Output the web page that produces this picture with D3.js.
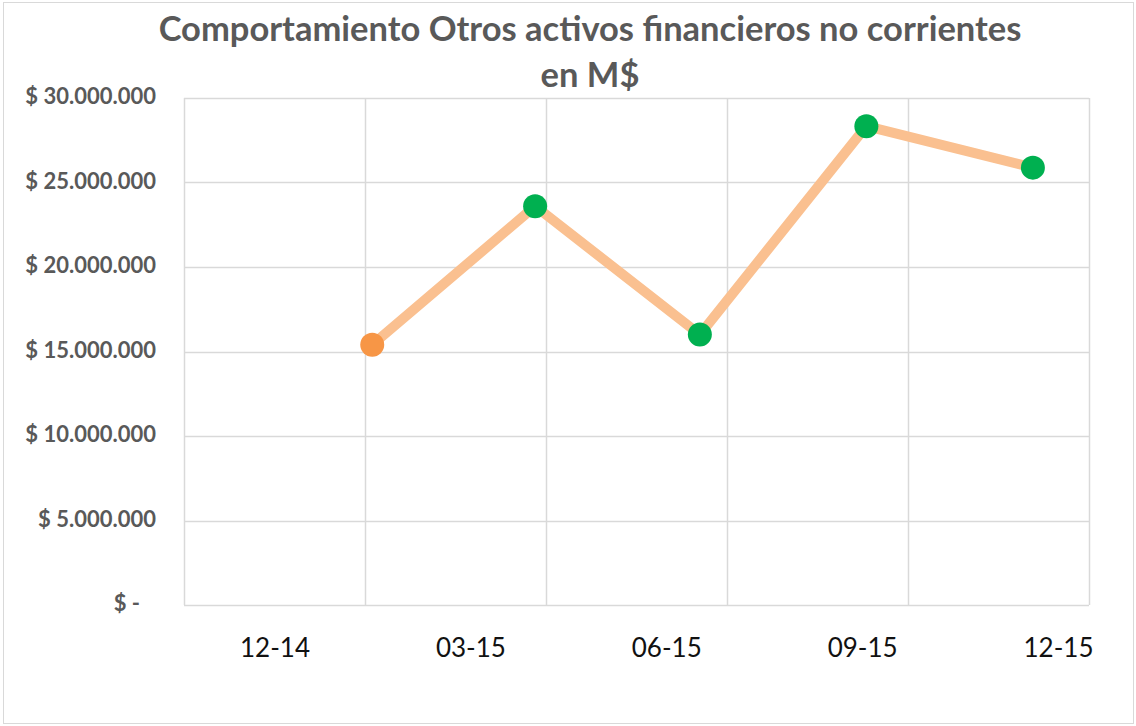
<!DOCTYPE html>
<html>
<head>
<meta charset="utf-8">
<script src="https://cdn.jsdelivr.net/npm/d3@7"></script>
<style>
  html, body { margin: 0; padding: 0; background: #fff; }
  svg { display: block; }
</style>
</head>
<body>
<div id="chart"></div>
<script>
const periods = ['2014-12-31', '2015-03-31', '2015-06-30', '2015-09-30', '2015-12-31'];
const values = [15400000, 23600000, 16000000, 28330000, 25880000];
const markerColors = ['#F79646', '#00B050', '#00B050', '#00B050', '#00B050'];
const tickLabels = ['12-14', '03-15', '06-15', '09-15', '12-15'];
const yTicks = [0, 5000000, 10000000, 15000000, 20000000, 25000000, 30000000];
const titleLines = ['Comportamiento Otros activos financieros no corrientes', 'en M$'];

const W = 1136, H = 726;
const margin = { top: 98, right: 47, bottom: 121, left: 184 };
const width = W - margin.left - margin.right;
const height = H - margin.top - margin.bottom;

const parse = d3.utcParse('%Y-%m-%d');
const data = periods.map(function(p, i) {
    return { date: parse(p), value: values[i], color: markerColors[i] };
});

const svg = d3.select('#chart')
    .append('svg')
    .attr('width', W)
    .attr('height', H);

svg.append('rect')
    .attr('x', 3.5).attr('y', 2.5)
    .attr('width', W - 6).attr('height', H - 5)
    .attr('fill', '#fff')
    .attr('stroke', '#d9d9d9')
    .attr('stroke-width', 1);

svg.selectAll('.title')
    .data(titleLines)
    .enter()
    .append('text')
    .attr('class', 'title')
    .attr('x', 590)
    .attr('y', function(d, i) { return 41 + i * 46; })
    .attr('text-anchor', 'middle')
    .style('font-family', 'Lato, sans-serif')
    .style('font-weight', 'bold')
    .style('font-size', '34.5px')
    .style('fill', '#595959')
    .text(function(d) { return d; });

const g = svg.append('g')
    .attr('transform', 'translate(' + margin.left + ',' + margin.top + ')');

// date axis: 500 days wide, gridlines every 100 days
const start = parse('2014-09-18');
const end = d3.utcDay.offset(start, 500);
const x = d3.scaleUtc()
    .domain([start, end])
    .range([0, width]);

const gridDates = d3.range(0, 501, 100).map(function(n) { return d3.utcDay.offset(start, n); });

const y = d3.scaleLinear()
    .domain([0, 30000000])
    .range([height, 0]);

g.selectAll('.hgrid')
    .data(yTicks)
    .enter()
    .append('line')
    .attr('x1', 0).attr('x2', width)
    .attr('y1', function(d) { return Math.round(y(d)) + 0.5; })
    .attr('y2', function(d) { return Math.round(y(d)) + 0.5; })
    .attr('stroke', '#d9d9d9')
    .attr('stroke-width', 1.5);

g.selectAll('.vgrid')
    .data(gridDates)
    .enter()
    .append('line')
    .attr('x1', function(d) { return Math.round(x(d)) + 0.5; })
    .attr('x2', function(d) { return Math.round(x(d)) + 0.5; })
    .attr('y1', 0).attr('y2', height)
    .attr('stroke', '#d9d9d9')
    .attr('stroke-width', 1.5);

const yAxis = g.append('g')
    .call(d3.axisLeft(y)
        .tickValues(yTicks)
        .tickSize(0)
        .tickPadding(28)
        .tickFormat(function(d) {
            return d === 0 ? '$ -   ' : '$ ' + d3.format(',')(d).replace(/,/g, '.');
        }));
yAxis.select('.domain').remove();
yAxis.selectAll('text')
    .attr('dy', '0.25em')
    .style('white-space', 'pre')
    .style('font-family', 'Lato, sans-serif')
    .style('font-weight', 'bold')
    .style('font-size', '22px')
    .style('fill', '#595959');

// category labels sit on their own evenly spaced positions
const xl = d3.scalePoint()
    .domain(tickLabels)
    .range([90.5, 874]);

const xAxis = g.append('g')
    .attr('transform', 'translate(0,' + height + ')')
    .call(d3.axisBottom(xl).tickSize(0).tickPadding(34));
xAxis.select('.domain').remove();
xAxis.selectAll('text')
    .style('font-family', 'Lato, sans-serif')
    .style('font-size', '26px')
    .style('fill', '#111');

const line = d3.line()
    .x(function(d) { return x(d.date); })
    .y(function(d) { return y(d.value); });

g.append('path')
    .datum(data)
    .attr('fill', 'none')
    .attr('stroke', '#FAC090')
    .attr('stroke-width', 10)
    .attr('stroke-linejoin', 'round')
    .attr('d', line);

g.selectAll('.dot')
    .data(data)
    .enter()
    .append('circle')
    .attr('class', 'dot')
    .attr('cx', function(d) { return x(d.date); })
    .attr('cy', function(d) { return y(d.value); })
    .attr('r', 12)
    .attr('fill', function(d) { return d.color; });
</script>
</body>
</html>
